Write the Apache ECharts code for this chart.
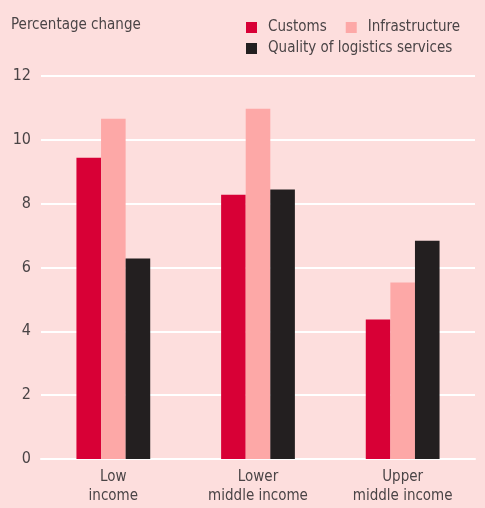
<!DOCTYPE html>
<html>
<head>
<meta charset="utf-8">
<script src="https://cdn.jsdelivr.net/npm/echarts@6/dist/echarts.min.js"></script>
<style>
  html, body { margin: 0; padding: 0; background: #fddedd; }
  #chart { width: 485px; height: 508px; }
</style>
</head>
<body>
<div id="chart"></div>
<script>
    // data
    var categories = ['Low\nincome', 'Lower\nmiddle income', 'Upper\nmiddle income'];
    var customs = [9.44, 8.28, 4.37];
    var infrastructure = [10.66, 10.97, 5.53];
    var logistics = [6.28, 8.44, 6.84];
    var yTicks = [0, 2, 4, 6, 8, 10, 12];

    var font = '"Liberation Sans Narrow", "DejaVu Sans Condensed", "Roboto", sans-serif';
    var textColor = '#4a4446';
    var colors = ['#d80036', '#fda8a7', '#231f20'];

    var chart = echarts.init(document.getElementById('chart'));

    var legendBase = {
        left: 246,
        itemWidth: 11,
        itemHeight: 11,
        itemGap: 19,
        icon: 'rect',
        textStyle: { fontFamily: font, fontSize: 15, color: textColor, padding: [0, 0, 0, 6] },
        padding: 0
    };

    var option = {
        backgroundColor: '#fddedd',
        animation: false,
        title: {
            text: 'Percentage change',
            left: 11,
            top: 18,
            padding: 0,
            textStyle: { fontFamily: font, fontSize: 15, fontWeight: 'normal', color: textColor }
        },
        legend: [
            Object.assign({}, legendBase, { top: 20, data: ['Customs', 'Infrastructure'] }),
            Object.assign({}, legendBase, { top: 41, data: ['Quality of logistics services'] })
        ],
        grid: { left: 41, right: 10, top: 76, bottom: 49 },
        xAxis: {
            type: 'category',
            data: categories,
            axisLine: { show: true, lineStyle: { color: '#ffffff', width: 2 } },
            axisTick: { show: false },
            axisLabel: {
                fontFamily: font, fontSize: 15, color: textColor,
                lineHeight: 19, margin: 9, interval: 0
            }
        },
        yAxis: {
            type: 'value',
            min: yTicks[0],
            max: yTicks[yTicks.length - 1],
            interval: 2,
            axisLine: { show: false },
            axisTick: { show: false },
            splitLine: { lineStyle: { color: '#ffffff', width: 2 } },
            axisLabel: { fontFamily: font, fontSize: 16, color: textColor, margin: 10 }
        },
        series: [
            { name: 'Customs', type: 'bar', data: customs, barWidth: '17%', barGap: '0%', itemStyle: { color: colors[0] } },
            { name: 'Infrastructure', type: 'bar', data: infrastructure, barWidth: '17%', barGap: '0%', itemStyle: { color: colors[1] } },
            { name: 'Quality of logistics services', type: 'bar', data: logistics, barWidth: '17%', barGap: '0%', itemStyle: { color: colors[2] } }
        ]
    };

    chart.setOption(option);
</script>
</body>
</html>
